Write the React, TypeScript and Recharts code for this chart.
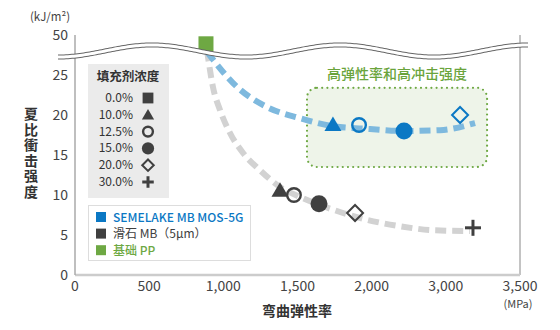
import React from "react";
import { ComposedChart, Line, Scatter, XAxis, YAxis, ReferenceArea, ReferenceLine } from "recharts";

// axis ticks (the source figure labels its last two x ticks 3,000 / 3,500, and the top y tick 50 after a break)
const X_TICKS = [0, 500, 1000, 1500, 2000, 2500, 3000];
const X_TICK_LABELS = ["0", "500", "1,000", "1,500", "2,000", "3,000", "3,500"];
const Y_TICKS = [0, 5, 10, 15, 20, 25, 30];
const Y_TICK_LABELS = ["0", "5", "10", "15", "20", "25", "50"];

// measured points (x in axis units, y in kJ/m2 axis units)
const BASE_PP = [{ x: 883, y: 28.9, marker: "square" }];
const SEMELAKE = [
  { x: 1739, y: 18.8, marker: "triangle" },
  { x: 1915, y: 18.75, marker: "circleOpen" },
  { x: 2218, y: 18.0, marker: "circle" },
  { x: 2596, y: 20.0, marker: "diamond" },
];
const TALC = [
  { x: 1382, y: 10.6, marker: "triangle" },
  { x: 1476, y: 10.0, marker: "circleOpen" },
  { x: 1645, y: 8.9, marker: "circle" },
  { x: 1888, y: 7.75, marker: "diamond" },
  { x: 2683, y: 5.9, marker: "plus" },
];

// trend curves
const SEMELAKE_CURVE = [
  { x: 890, y: 27.9 },
  { x: 1099, y: 23.4 },
  { x: 1294, y: 21.0 },
  { x: 1517, y: 19.6 },
  { x: 1739, y: 18.6 },
  { x: 1989, y: 18.25 },
  { x: 2218, y: 18.0 },
  { x: 2461, y: 18.1 },
  { x: 2697, y: 19.0 },
];
const TALC_CURVE = [
  { x: 890, y: 28.1 },
  { x: 930, y: 23.5 },
  { x: 978, y: 20.6 },
  { x: 1045, y: 17.75 },
  { x: 1133, y: 15.25 },
  { x: 1247, y: 13.1 },
  { x: 1382, y: 11.0 },
  { x: 1517, y: 9.75 },
  { x: 1652, y: 8.75 },
  { x: 1807, y: 7.75 },
  { x: 1969, y: 6.9 },
  { x: 2191, y: 6.1 },
  { x: 2414, y: 5.6 },
  { x: 2663, y: 5.5 },
];

const CONC_LEGEND = [
  { label: "0.0%", marker: "square" },
  { label: "10.0%", marker: "triangle" },
  { label: "12.5%", marker: "circleOpen" },
  { label: "15.0%", marker: "circle" },
  { label: "20.0%", marker: "diamond" },
  { label: "30.0%", marker: "plus" },
];
const SERIES_LEGEND = [
  { label: "SEMELAKE MB MOS-5G", color: "#0b78c4" },
  { label: "滑石 MB（5μm）", color: "#404040" },
  { label: "基础 PP", color: "#6ea843" },
];

const BLUE = "#0b78c4";
const DARK = "#404040";
const GREEN = "#6ea843";
const FONT = "'Noto Sans CJK SC', 'Noto Sans', sans-serif";

function Marker({ cx, cy, marker, color, s = 1 }: any) {
  if (cx == null || cy == null) return null;
  switch (marker) {
    case "square":
      return <rect x={cx - 7.5 * s} y={cy - 7.5 * s} width={15 * s} height={15 * s} fill={color} />;
    case "triangle":
      return (
        <polygon
          points={`${cx},${cy - 8 * s} ${cx - 8.5 * s},${cy + 6.5 * s} ${cx + 8.5 * s},${cy + 6.5 * s}`}
          fill={color}
        />
      );
    case "circleOpen":
      return <circle cx={cx} cy={cy} r={6.8 * s} fill="none" stroke={color} strokeWidth={2.4} />;
    case "circle":
      return <circle cx={cx} cy={cy} r={8.5 * s} fill={color} />;
    case "diamond":
      return (
        <polygon
          points={`${cx},${cy - 8 * s} ${cx + 8 * s},${cy} ${cx},${cy + 8 * s} ${cx - 8 * s},${cy}`}
          fill="none"
          stroke={color}
          strokeWidth={2}
        />
      );
    case "plus":
      return (
        <g stroke={color} strokeWidth={3}>
          <line x1={cx - 8 * s} y1={cy} x2={cx + 8 * s} y2={cy} />
          <line x1={cx} y1={cy - 8 * s} x2={cx} y2={cy + 8 * s} />
        </g>
      );
    default:
      return null;
  }
}

// axis-break wave drawn over the plot
function wavePath() {
  let d = "";
  for (let x = 58; x <= 528; x += 2) {
    const y = 51 + 6 * Math.cos((2 * Math.PI * (x - 58)) / 188);
    d += (d ? " L" : "M") + x + "," + y.toFixed(2);
  }
  return d;
}

export default function App() {
  const wave = wavePath();
  return (
    <div style={{ position: "absolute", left: 0, top: 0, width: 560, height: 330, background: "#fff", fontFamily: FONT }}>
      <ComposedChart width={560} height={330} margin={{ top: 35, right: 40, bottom: 25, left: 15 }}>
        <XAxis
          type="number"
          dataKey="x"
          domain={[0, 3000]}
          ticks={X_TICKS}
          tickFormatter={(v: number) => X_TICK_LABELS[X_TICKS.indexOf(v)]}
          tickLine={false}
          tickSize={5}
          tickMargin={1}
          axisLine={{ stroke: "#cccccc", strokeWidth: 2.5 }}
          tick={{ fill: "#444", fontSize: 14, fontFamily: FONT }}
          height={30}
        />
        <YAxis
          type="number"
          dataKey="y"
          domain={[0, 30]}
          ticks={Y_TICKS}
          tickFormatter={(v: number) => Y_TICK_LABELS[Y_TICKS.indexOf(v)]}
          tickLine={false}
          tickSize={5}
          tickMargin={2}
          axisLine={{ stroke: "#aaaaaa", strokeWidth: 1.5 }}
          tick={{ fill: "#444", fontSize: 14, fontFamily: FONT }}
          width={60}
        />
        <ReferenceLine x={3000} stroke="#888" strokeWidth={1} />
        <ReferenceArea
          x1={1564}
          x2={2778}
          y1={13.5}
          y2={23.4}
          shape={(p: any) => (
            <rect
              x={p.x}
              y={p.y}
              width={p.width}
              height={p.height}
              rx={10}
              fill="#eef4e9"
              stroke={GREEN}
              strokeWidth={2.2}
              strokeDasharray="0 5.2"
              strokeLinecap="round"
            />
          )}
        />
        <Line
          data={TALC_CURVE}
          dataKey="y"
          type="monotone"
          stroke="#d2d2d2"
          strokeWidth={6}
          strokeDasharray="11 6"
          dot={false}
          isAnimationActive={false}
        />
        <Line
          data={SEMELAKE_CURVE}
          dataKey="y"
          type="monotone"
          stroke="#7eb9de"
          strokeWidth={6}
          strokeDasharray="11 6"
          dot={false}
          isAnimationActive={false}
        />
        <Scatter
          data={TALC}
          dataKey="y"
          isAnimationActive={false}
          shape={(p: any) => <Marker cx={p.cx} cy={p.cy} marker={p.payload.marker} color={DARK} />}
        />
        <Scatter
          data={SEMELAKE}
          dataKey="y"
          isAnimationActive={false}
          shape={(p: any) => <Marker cx={p.cx} cy={p.cy} marker={p.payload.marker} color={BLUE} />}
        />
        <Scatter
          data={BASE_PP}
          dataKey="y"
          isAnimationActive={false}
          shape={(p: any) => <Marker cx={p.cx} cy={p.cy} marker={p.payload.marker} color={GREEN} />}
        />
      </ComposedChart>

      <svg width={560} height={330} style={{ position: "absolute", left: 0, top: 0, pointerEvents: "none" }} fontFamily={FONT}>
        <path d={wave} fill="none" stroke="#666" strokeWidth={5} />
        <path d={wave} fill="none" stroke="#fff" strokeWidth={3} />

        <text x={50} y={21} fontSize={11.5} fill="#444" textAnchor="middle">(kJ/m²)</text>
        <text x={297} y={316} fontSize={14} fontWeight={700} fill="#333" textAnchor="middle">弯曲弹性率</text>
        <text x={518} y={308} fontSize={11} fill="#444" textAnchor="middle">(MPa)</text>

        <text x={397} y={79} fontSize={14} fontWeight={500} fill="#6aa43c" textAnchor="middle">高弹性率和高冲击强度</text>

        <rect x={88} y={64} width={81} height={134} fill="#ebebeb" />
        <text x={128} y={81} fontSize={12.5} fontWeight={700} fill="#333" textAnchor="middle">填充剂浓度</text>
        {CONC_LEGEND.map((r, i) => (
          <g key={r.label}>
            <text x={133} y={102 + i * 16.8} fontSize={12} fill="#333" textAnchor="end">{r.label}</text>
            <Marker cx={148} cy={98 + i * 16.8} marker={r.marker} color={DARK} s={0.72} />
          </g>
        ))}

        <rect x={88.5} y={205.5} width={162} height={55} fill="#fff" stroke="#dddddd" />
        {SERIES_LEGEND.map((r, i) => (
          <g key={r.label}>
            <rect x={96} y={212 + i * 16.6} width={10} height={10} fill={r.color} />
            <text x={113} y={221.5 + i * 16.6} fontSize={12} fontWeight={i === 1 ? 400 : 500} fill={r.color}>{r.label}</text>
          </g>
        ))}
      </svg>

      <div
        style={{
          position: "absolute",
          left: 23,
          top: 107,
          writingMode: "vertical-rl",
          fontSize: 14,
          fontWeight: 700,
          color: "#333",
          letterSpacing: 1.5,
          lineHeight: "16px",
          fontFamily: FONT,
        }}
      >
        夏比衝击强度
      </div>
    </div>
  );
}
